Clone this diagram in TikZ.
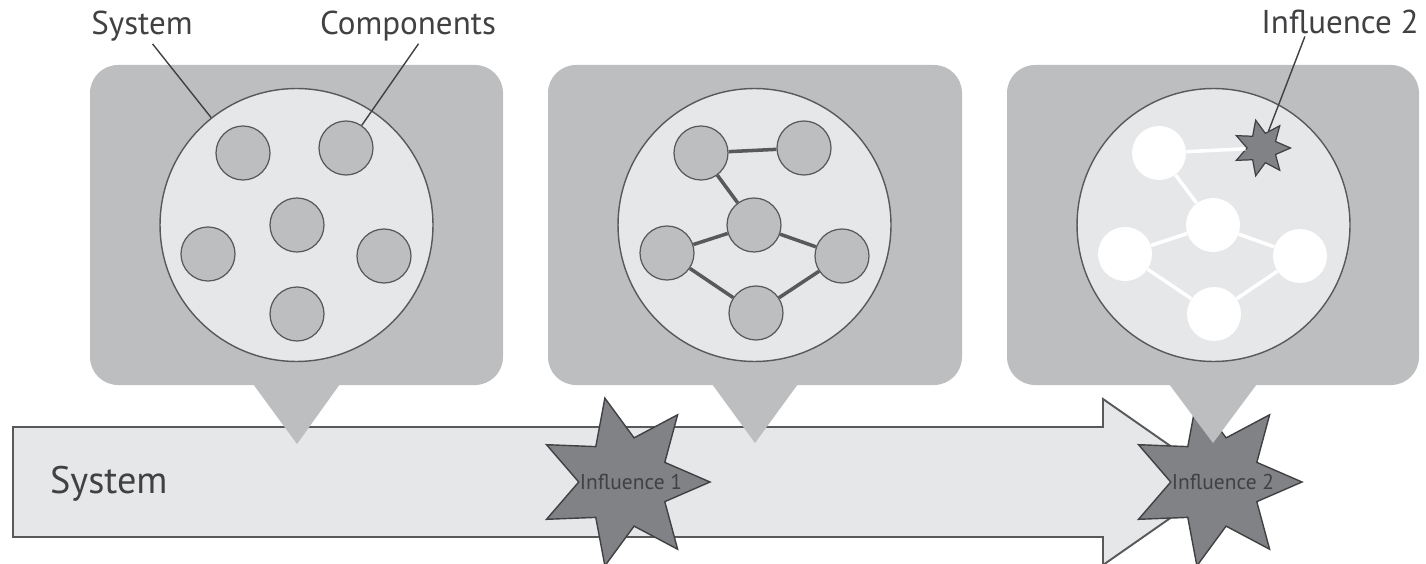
\documentclass[tikz,border=0pt]{standalone}
\usepackage{fontspec}
\setmainfont{PT Sans}
\usetikzlibrary{shapes.geometric}

\definecolor{panelgray}{HTML}{BCBEC0}
\definecolor{fillgray}{HTML}{E6E7E8}
\definecolor{edgegray}{HTML}{58595B}
\definecolor{stargray}{HTML}{808285}
\definecolor{textgray}{HTML}{414042}

\tikzset{
  panel/.style={fill=panelgray, rounded corners=0.56cm},
  bubbletip/.style={fill=panelgray},
  syscircle/.style={circle, draw=edgegray, line width=0.8pt, fill=fillgray,
    minimum size=5.46cm, inner sep=0pt},
  comp/.style={circle, draw=edgegray, line width=0.7pt, fill=panelgray,
    minimum size=1.08cm, inner sep=0pt},
  compw/.style={circle, fill=white, minimum size=1.08cm, inner sep=0pt},
  link/.style={edgegray, line width=2pt},
  linkw/.style={white, line width=2pt},
  infstar/.style={star, star points=7, star point ratio=1.9,
    shape border rotate=-90, draw=textgray, line width=0.8pt,
    fill=stargray, minimum size=3.44cm, inner sep=0pt},
  bigarrow/.style={draw=edgegray, line width=1.1pt, fill=fillgray},
  lbl/.style={text=textgray, font=\fontsize{18.8}{22}\selectfont, inner sep=1pt},
  inflbl/.style={text=textgray, font=\fontsize{12.2}{14}\selectfont, inner sep=0pt},
  leader/.style={textgray, line width=0.8pt},
}

\begin{document}
\begin{tikzpicture}[x=0.02cm, y=-0.02cm]
\useasboundingbox (0,0) rectangle (1426,564);

% time line
\draw[bigarrow] (13,427) -- (1103,427) -- (1103,399) -- (1222,482)
  -- (1103,565) -- (1103,537) -- (13,537) -- cycle;
\node[lbl, font=\fontsize{21.8}{26}\selectfont, anchor=base west] (timetext) at (48,493) {System};

% influences on the time line
\node[infstar] (inf1) at (624,482) {};
\node[inflbl, anchor=base] (inf1text) at (631,489) {Influence 1};
\node[infstar] (inf2) at (1216,482) {};
\node[inflbl, anchor=base] (inf2text) at (1223,489) {Influence 2};

% bubbles
\fill[panel] (90,65) rectangle (503,385);
\fill[bubbletip] (253,384) -- (297,444) -- (340,384) -- cycle;
\fill[panel] (548,65) rectangle (962,385);
\fill[bubbletip] (712,384) -- (755,443) -- (798,384) -- cycle;
\fill[panel] (1007,65) rectangle (1419,385);
\fill[bubbletip] (1169,384) -- (1213,443) -- (1257,384) -- cycle;

\node[syscircle] (sys1) at (296.5,225) {};
\node[syscircle] (sys2) at (754.5,225) {};
\node[syscircle] (sys3) at (1213.5,225) {};

% loose components
\node[comp] (c1a) at (243,153) {};
\node[comp] (c1b) at (346,148) {};
\node[comp] (c1c) at (297,225) {};
\node[comp] (c1d) at (208,254) {};
\node[comp] (c1e) at (384,256) {};
\node[comp] (c1f) at (297,314) {};

% linked components
\node[comp] (c2a) at (701,153) {};
\node[comp] (c2b) at (804,148) {};
\node[comp] (c2c) at (754,225) {};
\node[comp] (c2d) at (667,253) {};
\node[comp] (c2e) at (842,256) {};
\node[comp] (c2f) at (756,313) {};
\draw[link] (c2a) -- (c2b);
\draw[link] (c2a) -- (c2c);
\draw[link] (c2c) -- (c2d);
\draw[link] (c2c) -- (c2e);
\draw[link] (c2d) -- (c2f);
\draw[link] (c2e) -- (c2f);

% changed components
\node[compw] (c3a) at (1159,153) {};
\node[infstar, minimum size=1.14cm, line width=0.7pt] (inf3) at (1262,148) {};
\node[compw] (c3c) at (1213,225) {};
\node[compw] (c3d) at (1125,254) {};
\node[compw] (c3e) at (1300,256) {};
\node[compw] (c3f) at (1214,314) {};
\draw[linkw] (c3a) -- (inf3);
\draw[linkw] (c3a) -- (c3c);
\draw[linkw] (c3c) -- (c3d);
\draw[linkw] (c3c) -- (c3e);
\draw[linkw] (c3d) -- (c3f);
\draw[linkw] (c3e) -- (c3f);

% labels
\node[lbl, anchor=base] (systext) at (142,35) {System};
\node[lbl, anchor=base] (comptext) at (408,35) {Components};
\node[lbl, anchor=base] (inftext) at (1340,34) {Influence 2};
\draw[leader] ([xshift=6pt]systext.south) -- (sys1);
\draw[leader] ([xshift=6pt]comptext.south) -- (c1b);
\draw[leader] ([xshift=-20pt]inftext.south) -- (inf3);
\end{tikzpicture}
\end{document}
